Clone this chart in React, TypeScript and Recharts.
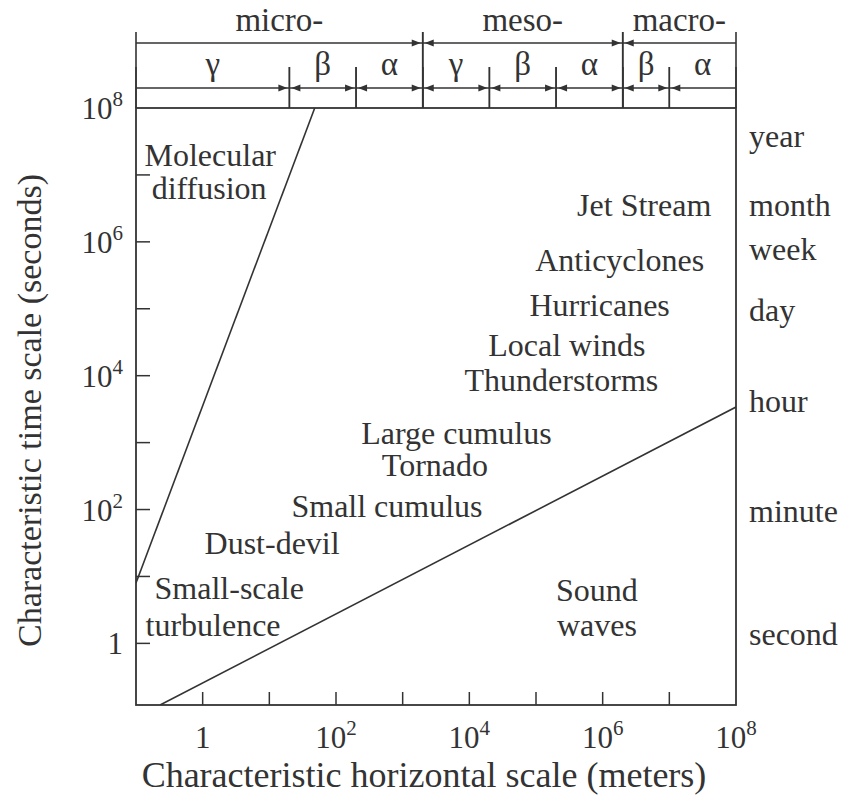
import {
  ComposedChart,
  XAxis,
  YAxis,
  Line,
  Scatter,
  ReferenceArea,
  Label,
} from "recharts";

const FONT = '"Liberation Serif", "Times New Roman", serif';
const INK = "#333";
const Y_MIN = 0.12;

// axis ticks (one per decade)
const xTicks = [1, 10, 100, 1e3, 1e4, 1e5, 1e6, 1e7, 1e8];
const yTicks = [1, 10, 100, 1e3, 1e4, 1e5, 1e6, 1e7, 1e8];

// time units marked on the right side (seconds)
const timeUnits = ["year", "month", "week", "day", "hour", "minute", "second"];
const timeUnitSeconds = [3.5e7, 3.2e6, 7.1e5, 8.7e4, 3.8e3, 85, 1.25];

// scale classes along the top (meters)
const bandNames = ["micro-", "meso-", "macro-"];
const bandEdges = [0.1, 2e3, 2e6, 1e8];
const subBandNames = ["γ", "β", "α", "γ", "β", "α", "β", "α"];
const subBandEdges = [0.1, 20, 200, 2e3, 2e4, 2e5, 2e6, 1e7, 1e8];

// boundary lines
const diffusionLine = [
  { x: 0.1, y: 8 },
  { x: 48, y: 1e8 },
];
const soundLine = [
  { x: 0.23, y: Y_MIN },
  { x: 1e8, y: 3400 },
];

// phenomena labels (length in m, time in s)
const labelText = [
  "Molecular",
  "diffusion",
  "Jet Stream",
  "Anticyclones",
  "Hurricanes",
  "Local winds",
  "Thunderstorms",
  "Large cumulus",
  "Tornado",
  "Small cumulus",
  "Dust-devil",
  "Small-scale",
  "turbulence",
  "Sound",
  "waves",
];
const labelX = [1.3, 1.25, 4.2e6, 1.8e6, 9e5, 2.9e5, 2.4e5, 6.4e3, 3.05e3, 582, 11, 2.5, 1.43, 8.2e5, 8.2e5];
const labelY = [1.9e7, 6.2e6, 3.4e6, 5.2e5, 1.1e5, 2.8e4, 8.3e3, 1350, 440, 109, 30.6, 6.5, 1.8, 6.0, 1.8];

const labels = labelText.map((text, i) => ({ text, x: labelX[i], y: labelY[i] }));

function expLabel(v: number) {
  const e = Math.round(Math.log10(v));
  if (e === 0) return "1";
  return [
    <tspan key="b">10</tspan>,
    <tspan key="e" dy={-13} fontSize={21}>
      {e}
    </tspan>,
  ];
}

function LeftTick(props: any) {
  const { x, y, payload } = props;
  const e = Math.round(Math.log10(payload.value));
  return (
    <g>
      {e < 8 && <line x1={x} x2={x + 14} y1={y} y2={y} stroke={INK} strokeWidth={1.5} />}
      {e % 2 === 0 && (
        <text x={x - 13} y={y + 11} textAnchor="end" fontFamily={FONT} fontSize={31} fill={INK}>
          {expLabel(payload.value)}
        </text>
      )}
    </g>
  );
}

function BottomTick(props: any) {
  const { x, y, payload } = props;
  const e = Math.round(Math.log10(payload.value));
  return (
    <g>
      {e < 8 && <line x1={x} x2={x} y1={y} y2={y - 13} stroke={INK} strokeWidth={1.5} />}
      {e % 2 === 0 && (
        <text x={x} y={y + 43} textAnchor="middle" fontFamily={FONT} fontSize={31} fill={INK}>
          {expLabel(payload.value)}
        </text>
      )}
    </g>
  );
}

function RightTick(props: any) {
  const { x, y, payload } = props;
  const i = timeUnitSeconds.indexOf(payload.value);
  return (
    <text x={x + 13} y={y + 8} fontFamily={FONT} fontSize={32} fill={INK}>
      {timeUnits[i]}
    </text>
  );
}

function Arrow({ x1, x2, y, left, right }: any) {
  const h = 9;
  const w = 3.5;
  const a = x1 + 2;
  const b = x2 - 2;
  return (
    <g>
      <line x1={x1} x2={x2} y1={y} y2={y} stroke={INK} strokeWidth={1.5} />
      {left && <polygon points={`${a},${y} ${a + h},${y - w} ${a + h},${y + w}`} fill={INK} />}
      {right && <polygon points={`${b},${y} ${b - h},${y - w} ${b - h},${y + w}`} fill={INK} />}
    </g>
  );
}

const bandShape = (i: number) => (p: any) => {
  const { x, y, width } = p;
  const x2 = x + width;
  return (
    <g>
      <line x1={x} x2={x} y1={y - 76} y2={y} stroke={INK} strokeWidth={1.6} />
      <line x1={x2} x2={x2} y1={y - 76} y2={y} stroke={INK} strokeWidth={1.6} />
      <Arrow x1={x} x2={x2} y={y - 65} left={i > 0} right={i < bandNames.length - 1} />
      <text x={(x + x2) / 2} y={y - 77} textAnchor="middle" fontFamily={FONT} fontSize={33} fill={INK}>
        {bandNames[i]}
      </text>
    </g>
  );
};

const subBandShape = (i: number) => (p: any) => {
  const { x, y, width } = p;
  const x2 = x + width;
  return (
    <g>
      <line x1={x} x2={x} y1={y - 41} y2={y} stroke={INK} strokeWidth={1.5} />
      <line x1={x2} x2={x2} y1={y - 41} y2={y} stroke={INK} strokeWidth={1.5} />
      <Arrow x1={x} x2={x2} y={y - 20} left={i > 0} right={i < subBandNames.length - 1} />
      <text x={(x + x2) / 2} y={y - 33} textAnchor="middle" fontFamily={FONT} fontSize={33} fill={INK}>
        {subBandNames[i]}
      </text>
    </g>
  );
};

const frameShape = (p: any) => (
  <rect x={p.x} y={p.y} width={p.width} height={p.height} fill="none" stroke={INK} strokeWidth={1.8} />
);

const labelShape = (p: any) => (
  <text x={p.cx} y={p.cy + 10} textAnchor="middle" fontFamily={FONT} fontSize={32} fill={INK}>
    {p.payload.text}
  </text>
);

const yTitle = (p: any) => {
  const vb = p.viewBox || { x: 0, y: 108, width: 136, height: 597 };
  const cy = vb.y + vb.height / 2 + 4;
  return (
    <text
      transform={`translate(41, ${cy}) rotate(-90)`}
      x={0}
      y={0}
      textAnchor="middle"
      fontFamily={FONT}
      fontSize={34}
      fill={INK}
    >
      Characteristic time scale (seconds)
    </text>
  );
};

const xTitle = (p: any) => {
  const vb = p.viewBox || { x: 136, y: 705, width: 600, height: 90 };
  return (
    <text
      x={vb.x + vb.width / 2 - 12}
      y={vb.y + 82}
      textAnchor="middle"
      fontFamily={FONT}
      fontSize={36}
      fill={INK}
    >
      Characteristic horizontal scale (meters)
    </text>
  );
};

export default function App() {
  return (
    <div style={{ position: "absolute", left: 0, top: 0, background: "#fff" }}>
      <ComposedChart width={845} height={795} margin={{ top: 108, right: 0, bottom: 0, left: 0 }}>
        <XAxis
          type="number"
          dataKey="x"
          scale="log"
          domain={[0.1, 1e8]}
          allowDataOverflow
          ticks={xTicks}
          interval={0}
          tickSize={0}
          tickMargin={0}
          axisLine={false}
          tickLine={false}
          tick={<BottomTick />}
          height={90}
        >
          <Label content={xTitle} />
        </XAxis>
        <YAxis
          type="number"
          dataKey="y"
          scale="log"
          domain={[Y_MIN, 1e8]}
          allowDataOverflow
          ticks={yTicks}
          interval={0}
          tickSize={0}
          tickMargin={0}
          axisLine={false}
          tickLine={false}
          tick={<LeftTick />}
          width={136}
        >
          <Label content={yTitle} />
        </YAxis>
        <YAxis
          yAxisId="right"
          orientation="right"
          type="number"
          scale="log"
          domain={[Y_MIN, 1e8]}
          allowDataOverflow
          ticks={timeUnitSeconds}
          interval={0}
          tickSize={0}
          tickMargin={0}
          axisLine={false}
          tickLine={false}
          tick={<RightTick />}
          width={109}
        />
        {bandNames.map((n, i) => (
          <ReferenceArea
            key={n}
            x1={bandEdges[i]}
            x2={bandEdges[i + 1]}
            y1={Y_MIN}
            y2={1e8}
            ifOverflow="visible"
            shape={bandShape(i)}
          />
        ))}
        {subBandNames.map((n, i) => (
          <ReferenceArea
            key={"s" + i}
            x1={subBandEdges[i]}
            x2={subBandEdges[i + 1]}
            y1={Y_MIN}
            y2={1e8}
            ifOverflow="visible"
            shape={subBandShape(i)}
          />
        ))}
        <Line
          data={diffusionLine}
          dataKey="y"
          type="linear"
          stroke={INK}
          strokeWidth={1.6}
          dot={false}
          isAnimationActive={false}
        />
        <Line
          data={soundLine}
          dataKey="y"
          type="linear"
          stroke={INK}
          strokeWidth={1.6}
          dot={false}
          isAnimationActive={false}
        />
        <Scatter data={labels} dataKey="y" shape={labelShape} isAnimationActive={false} />
        <ReferenceArea
          x1={0.1}
          x2={1e8}
          y1={Y_MIN}
          y2={1e8}
          ifOverflow="visible"
          shape={frameShape}
        />
      </ComposedChart>
    </div>
  );
}
